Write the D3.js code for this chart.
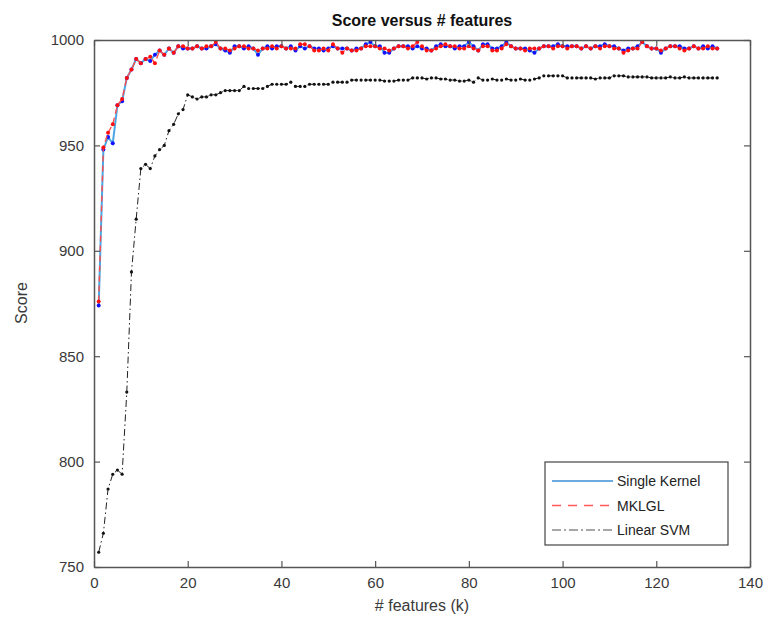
<!DOCTYPE html>
<html>
<head>
<meta charset="utf-8">
<script src="https://cdn.jsdelivr.net/npm/d3@7"></script>
<style>
    body { margin: 0; background: #fff; }
    svg { display: block; font-family: "Liberation Sans", Arial, sans-serif; }
</style>
</head>
<body>
<svg id="chart" width="768" height="633"></svg>
<script>
// number of features (k), 1..133
var features = d3.range(1, 134);

var singleKernel = [
    874,948,954,951,969,971,982,986,991,989,
    991,990,993,995,993,996,994,997,996,996,
    996,997,996,996,997,998,996,995,994,997,
    997,996,997,996,993,996,997,996,997,997,
    996,997,995,997,996,997,996,996,995,996,
    997,996,996,996,995,996,996,998,999,997,
    997,994,994,996,997,997,997,996,997,996,
    996,995,997,998,997,997,996,997,997,999,
    997,995,998,998,996,996,997,999,997,996,
    996,996,995,994,996,997,997,997,998,997,
    997,997,997,996,997,996,997,997,998,997,
    997,996,995,996,996,997,999,997,996,996,
    994,996,997,997,997,996,996,997,996,997,
    996,997,996
];

var mklgl = [
    876,949,956,960,969,972,982,986,991,989,
    991,992,989,995,993,996,994,997,997,996,
    996,997,996,997,997,999,996,996,995,996,
    997,997,996,996,995,996,996,997,996,997,
    996,996,996,998,998,997,995,995,996,995,
    998,996,994,996,995,995,996,997,997,997,
    996,996,995,996,997,997,996,997,999,997,
    995,995,996,997,998,997,997,996,996,997,
    996,995,997,997,995,995,996,998,997,996,
    996,995,996,996,996,997,997,996,997,997,
    996,997,997,996,997,996,997,996,997,997,
    996,996,994,995,996,996,999,997,996,996,
    995,996,997,997,996,995,996,997,996,996,
    997,996,996
];

var linearSvm = [
    757,766,787,794,796,794,833,890,915,939,
    941,939,945,948,950,957,960,965,967,974,
    973,972,973,973,974,974,975,976,976,976,
    976,978,977,977,977,977,978,979,979,979,
    979,980,978,978,978,979,979,979,979,979,
    980,980,980,980,981,981,981,981,981,981,
    981,980.5,980.5,980.5,981,981,981,982,982,982,
    981.5,982,982,981.5,981.5,981,981,980.5,980.5,981,
    980,982,981,981,981.5,981,981,981.5,981,981,
    981.5,981,981,981.5,982,983,983,983,983,983,
    982,982,982,982,982,982,981.5,982,982,982,
    983,983,983,982.5,982.5,982.5,982.5,982.5,982,982,
    982,982,982.5,982,982,982.5,982,982,982,982,
    982,982,982
];

var xTicks = [0, 20, 40, 60, 80, 100, 120, 140];
var yTicks = [750, 800, 850, 900, 950, 1000];
var legendNames = ["Single Kernel", "MKLGL", "Linear SVM"];

function drawChart() {
    var svg = d3.select("#chart");
    var left = 94, right = 750, top = 40, bottom = 567;
    var axisColor = "#555";

    var x = d3.scaleLinear().domain([0, 140]).range([left, right]);
    var y = d3.scaleLinear().domain([750, 1000]).range([bottom, top]);

    svg.append("rect")
        .attr("x", left).attr("y", top)
        .attr("width", right - left).attr("height", bottom - top)
        .attr("fill", "#fff");

    // series
    var series = [
        {name: "Linear SVM", values: linearSvm, line: "#222", width: 1, dash: "7,3,1.5,3", dot: "#111", r: 1.6},
        {name: "Single Kernel", values: singleKernel, line: "#4aa6e6", width: 2, dash: null, dot: "#1010ff", r: 2},
        {name: "MKLGL", values: mklgl, line: "#ff4d4d", width: 1.4, dash: "6,4", dot: "#ff1010", r: 2}
    ];

    var line = d3.line()
        .x(function(d) { return x(d.k); })
        .y(function(d) { return y(d.v); });

    series.forEach(function(s) {
        var pts = features.map(function(k, i) { return {k: k, v: s.values[i]}; });
        var g = svg.append("g");
        g.append("path")
            .datum(pts)
            .attr("d", line)
            .attr("fill", "none")
            .attr("stroke", s.line)
            .attr("stroke-width", s.width)
            .attr("stroke-dasharray", s.dash);
        g.selectAll("circle")
            .data(pts)
            .enter()
            .append("circle")
            .attr("cx", function(d) { return x(d.k); })
            .attr("cy", function(d) { return y(d.v); })
            .attr("r", s.r)
            .attr("fill", s.dot);
    });

    // axes, matlab style box with inward ticks
    var xAxis = svg.append("g")
        .attr("transform", "translate(0," + bottom + ")")
        .call(d3.axisBottom(x).tickValues(xTicks).tickSizeInner(-6).tickSizeOuter(0).tickPadding(10).tickFormat(d3.format("d")));
    var xTop = svg.append("g")
        .attr("transform", "translate(0," + top + ")")
        .call(d3.axisTop(x).tickValues(xTicks).tickSizeInner(-6).tickSizeOuter(0).tickFormat(""));
    var yAxis = svg.append("g")
        .attr("transform", "translate(" + left + ",0)")
        .call(d3.axisLeft(y).tickValues(yTicks).tickSizeInner(-6).tickSizeOuter(0).tickPadding(10).tickFormat(d3.format("d")));
    var yRight = svg.append("g")
        .attr("transform", "translate(" + right + ",0)")
        .call(d3.axisRight(y).tickValues(yTicks).tickSizeInner(-6).tickSizeOuter(0).tickFormat(""));

    [xAxis, xTop, yAxis, yRight].forEach(function(a) {
        a.select(".domain").attr("stroke", axisColor).attr("stroke-width", 1.5);
        a.selectAll(".tick line").attr("stroke", axisColor).attr("stroke-width", 1.2);
        a.selectAll("text")
            .attr("fill", "#3a3a3a")
            .style("font-size", "15px")
            .style("font-family", "'Liberation Sans', Arial, sans-serif");
    });

    // title and labels
    svg.append("text")
        .attr("x", 422).attr("y", 26)
        .attr("text-anchor", "middle")
        .style("font-size", "16px")
        .style("font-weight", "bold")
        .attr("fill", "#111")
        .text("Score versus # features");

    svg.append("text")
        .attr("x", 422).attr("y", 611)
        .attr("text-anchor", "middle")
        .style("font-size", "16px")
        .attr("fill", "#3a3a3a")
        .text("# features (k)");

    svg.append("text")
        .attr("transform", "translate(27,303) rotate(-90)")
        .attr("text-anchor", "middle")
        .style("font-size", "16px")
        .attr("fill", "#3a3a3a")
        .text("Score");

    // legend
    var lg = svg.append("g").attr("transform", "translate(545,462)");
    lg.append("rect")
        .attr("width", 183).attr("height", 83)
        .attr("fill", "#fff")
        .attr("stroke", "#444")
        .attr("stroke-width", 1.2);

    var legendStyle = [
        {color: "#3b8fd6", dash: null},
        {color: "#ff5a5a", dash: "9,7"},
        {color: "#8a8a8a", dash: "9,3,2,3"}
    ];

    legendNames.forEach(function(name, i) {
        var ly = 19 + i * 24.5;
        lg.append("line")
            .attr("x1", 7).attr("x2", 68)
            .attr("y1", ly).attr("y2", ly)
            .attr("stroke", legendStyle[i].color)
            .attr("stroke-width", 1.5)
            .attr("stroke-dasharray", legendStyle[i].dash);
        lg.append("text")
            .attr("x", 72).attr("y", ly + 5)
            .style("font-size", "14px")
            .attr("fill", "#222")
            .text(name);
    });
}

drawChart();
</script>
</body>
</html>
